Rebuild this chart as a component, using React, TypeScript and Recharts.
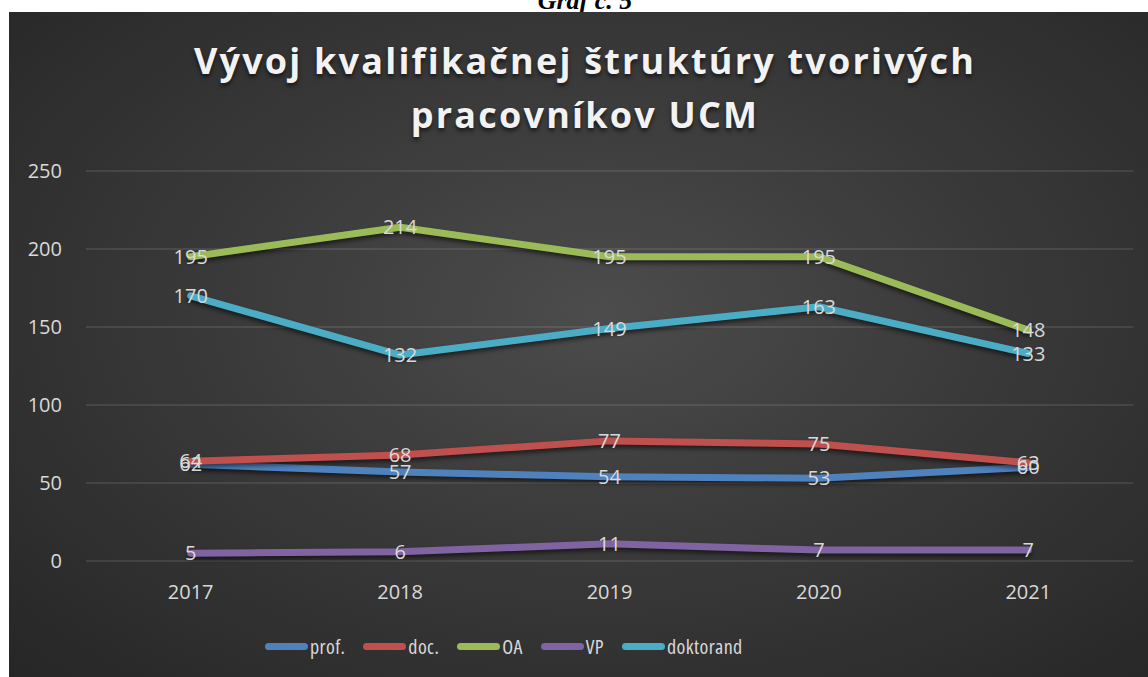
import { LineChart, Line, XAxis, YAxis, CartesianGrid, LabelList } from 'recharts'

const years = ['2017', '2018', '2019', '2020', '2021']
const prof = [62, 57, 54, 53, 60]
const doc = [64, 68, 77, 75, 63]
const oa = [195, 214, 195, 195, 148]
const vp = [5, 6, 11, 7, 7]
const doktorand = [170, 132, 149, 163, 133]
const yTicks = [0, 50, 100, 150, 200, 250]

const SERIES = [
  { key: 'prof', name: 'prof.', color: '#4F81BD', values: prof },
  { key: 'doc', name: 'doc.', color: '#C0504D', values: doc },
  { key: 'oa', name: 'OA', color: '#9BBB59', values: oa },
  { key: 'vp', name: 'VP', color: '#8064A2', values: vp },
  { key: 'doktorand', name: 'doktorand', color: '#4BACC6', values: doktorand },
]

const data = years.map((year, i) => {
  const row: Record<string, string | number> = { year }
  SERIES.forEach((s) => {
    row[s.key] = s.values[i]
  })
  return row
})

const FONT = '"Open Sans", "DejaVu Sans", sans-serif'
const TEXT = '#d9d9d9'

// eslint-disable-next-line @typescript-eslint/no-explicit-any
const renderLabel = (props: any) => {
  const { x, y, value } = props
  return (
    <text x={x} y={y} dy={7} textAnchor="middle" fill={TEXT} fontSize={20} fontFamily={FONT}>
      {value}
    </text>
  )
}

export default function App() {
  return (
    <div style={{ position: 'absolute', left: 0, top: 0, width: 1148, height: 677, background: '#fff', overflow: 'hidden' }}>
      <style>{`.recharts-line-curve { filter: drop-shadow(0px 3px 2px rgba(0,0,0,0.55)); }`}</style>
      <div
        style={{
          position: 'absolute',
          top: -12,
          left: 0,
          width: 1170,
          textAlign: 'center',
          fontFamily: '"Liberation Serif", serif',
          fontWeight: 'bold',
          fontStyle: 'italic',
          fontSize: 26,
          lineHeight: 1,
          color: '#000',
        }}
      >
        Graf č. 5
      </div>
      <div
        style={{
          position: 'absolute',
          left: 9,
          top: 12,
          width: 1139,
          height: 665,
          background: 'radial-gradient(ellipse farthest-corner at 52% 45%, #4c4c4c 0%, #3a3a3a 45%, #262626 100%)',
        }}
      >
        <div
          style={{
            position: 'absolute',
            top: 22,
            left: 0,
            width: 1152,
            textAlign: 'center',
            fontFamily: FONT,
            fontWeight: 700,
            fontSize: 36,
            letterSpacing: 2.2,
            lineHeight: '54px',
            color: '#f2f2f2',
            textShadow: '0px 3px 4px rgba(0,0,0,0.6)',
          }}
        >
          Vývoj kvalifikačnej štruktúry tvorivých
          <br />
          pracovníkov UCM
        </div>
        <LineChart width={1139} height={665} data={data} margin={{ top: 159, right: 15, left: 0, bottom: 86 }}>
          <CartesianGrid vertical={false} stroke="rgba(255,255,255,0.13)" strokeWidth={1.3} />
          <XAxis
            dataKey="year"
            axisLine={false}
            tickLine={false}
            tickSize={0}
            tickMargin={24}
            height={30}
            padding={{ left: 104.7, right: 104.7 }}
            tick={{ fill: TEXT, fontSize: 20, fontFamily: FONT }}
          />
          <YAxis
            domain={[0, 250]}
            ticks={yTicks}
            width={77}
            axisLine={false}
            tickLine={false}
            tickSize={0}
            tickMargin={24}
            tick={{ fill: TEXT, fontSize: 20, fontFamily: FONT }}
          />
          {SERIES.map((s) => (
            <Line
              key={s.key}
              dataKey={s.key}
              name={s.name}
              stroke={s.color}
              strokeWidth={7}
              strokeLinecap="round"
              strokeLinejoin="round"
              dot={false}
              activeDot={false}
              isAnimationActive={false}
            >
              <LabelList dataKey={s.key} content={renderLabel} />
            </Line>
          ))}
        </LineChart>
        <div
          style={{
            position: 'absolute',
            top: 621,
            left: 256,
            display: 'flex',
            alignItems: 'center',
            fontFamily: FONT,
            fontSize: 20,
            fontStretch: '75%',
            letterSpacing: 0.4,
            color: TEXT,
          }}
        >
          {SERIES.map((s) => (
            <div key={s.key} style={{ display: 'flex', alignItems: 'center', marginRight: 18 }}>
              <div style={{ width: 43, height: 7, borderRadius: 4, background: s.color, marginRight: 2 }} />
              <span>{s.name}</span>
            </div>
          ))}
        </div>
      </div>
    </div>
  )
}
